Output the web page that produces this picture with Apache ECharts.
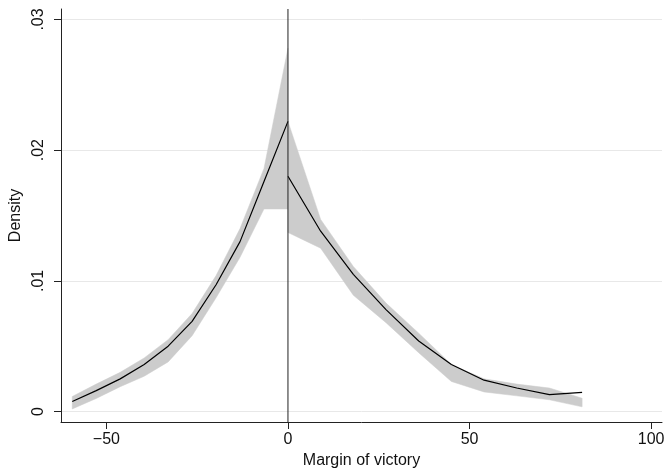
<!DOCTYPE html>
<html>
<head>
<meta charset="utf-8">
<script src="https://cdn.jsdelivr.net/npm/echarts@6/dist/echarts.min.js"></script>
<style>html,body{margin:0;padding:0;background:#fff}#c{width:667px;height:471px}</style>
</head>
<body>
<div id="c"></div>
<script>
// Left of threshold (losers)
var leftX     = [-59.4, -52.8, -46.2, -39.6, -33.0, -26.4, -19.8, -13.2, -6.6, 0];
var leftY     = [0.00077, 0.0016, 0.0025, 0.0036, 0.0050, 0.0069, 0.0097, 0.0130, 0.0176, 0.0222];
var leftLow   = [0.0002, 0.0010, 0.0019, 0.0027, 0.0038, 0.0058, 0.0087, 0.0118, 0.0155, 0.0155];
var leftHigh  = [0.00115, 0.0021, 0.0030, 0.0041, 0.0055, 0.0075, 0.0104, 0.0140, 0.0186, 0.0278];
// Right of threshold (winners)
var rightX    = [0, 9, 18, 27, 36, 45, 54, 63, 72, 81];
var rightY    = [0.0180, 0.0138, 0.0105, 0.0078, 0.0054, 0.0036, 0.0024, 0.0018, 0.0013, 0.00146];
var rightLow  = [0.0137, 0.0125, 0.0089, 0.0068, 0.0045, 0.0023, 0.0015, 0.0012, 0.0009, 0.00036];
var rightHigh = [0.0222, 0.0147, 0.0111, 0.0083, 0.0060, 0.0036, 0.0025, 0.0021, 0.0018, 0.00102];
// Axis ticks
var xTicks = [-50, 0, 50, 100];
var yTicks = [0, 0.01, 0.02, 0.03];
var yTickLabels = ['0', '.01', '.02', '.03'];

var FONT = "'Liberation Sans', Arial, Helvetica, sans-serif";

function zip(xs, ys) { return xs.map(function (x, i) { return [x, ys[i]]; }); }

function bandSeries(xs, lo, hi) {
  return {
    type: 'custom',
    silent: true,
    z: 1,
    data: [[xs[0], lo[0]]],
    renderItem: function (params, api) {
      var pts = [];
      for (var i = 0; i < xs.length; i++) pts.push(api.coord([xs[i], hi[i]]));
      for (var j = xs.length - 1; j >= 0; j--) pts.push(api.coord([xs[j], lo[j]]));
      return { type: 'polygon', shape: { points: pts }, style: { fill: '#cccccc', stroke: '#cccccc', lineWidth: 0.5 } };
    }
  };
}

var chart = echarts.init(document.getElementById('c'), null, { renderer: 'canvas' });
chart.setOption({
  animation: false,
  backgroundColor: '#ffffff',
  grid: { left: 61, right: 5, top: 9, bottom: 49, containLabel: false, outerBoundsMode: 'none' },
  xAxis: {
    type: 'value',
    min: -62.5, max: 103,
    name: 'Margin of victory',
    nameLocation: 'middle',
    nameGap: 27,
    nameTextStyle: { fontFamily: FONT, fontSize: 16, color: '#111' },
    axisLine: { show: true, onZero: false, lineStyle: { color: '#222', width: 1 } },
    axisTick: { show: true, length: 7, customValues: xTicks, lineStyle: { color: '#222' } },
    axisLabel: { customValues: xTicks, margin: 10, fontFamily: FONT, fontSize: 16, color: '#111',
      formatter: function (v) { return v < 0 ? '\u2212' + Math.abs(v) : String(v); } },
    splitLine: { show: false }
  },
  yAxis: {
    type: 'value',
    min: -0.0008, max: 0.0308,
    name: 'Density',
    nameLocation: 'middle',
    nameGap: 33,
    nameRotate: 90,
    nameTextStyle: { fontFamily: FONT, fontSize: 16, color: '#111' },
    axisLine: { show: true, onZero: false, lineStyle: { color: '#222', width: 1 } },
    axisTick: { show: true, length: 7, customValues: yTicks, lineStyle: { color: '#222' } },
    axisLabel: { customValues: yTicks, rotate: 90, margin: 14, fontFamily: FONT, fontSize: 16, color: '#111',
      formatter: function (v) {
        for (var i = 0; i < yTicks.length; i++) if (Math.abs(v - yTicks[i]) < 1e-9) return yTickLabels[i];
        return '';
      } },
    splitLine: { show: false }
  },
  series: [
    bandSeries(leftX, leftLow, leftHigh),
    bandSeries(rightX, rightLow, rightHigh),
    {
      type: 'line', data: zip(leftX, leftY), symbol: 'none', z: 3, silent: true,
      lineStyle: { color: '#000', width: 1.2 },
      markLine: {
        silent: true, symbol: 'none', label: { show: false },
        lineStyle: { color: '#e8e8e8', width: 1, type: 'solid' },
        data: yTicks.map(function (v) { return { yAxis: v }; }),
        z: 0
      }
    },
    {
      type: 'line', data: zip(rightX, rightY), symbol: 'none', z: 3, silent: true,
      lineStyle: { color: '#000', width: 1.2 }
    },
    {
      type: 'line', data: [[0, -0.0008], [0, 0.0308]], symbol: 'none', z: 4, silent: true,
      lineStyle: { color: '#222', width: 1 }
    }
  ]
});
</script>
</body>
</html>
